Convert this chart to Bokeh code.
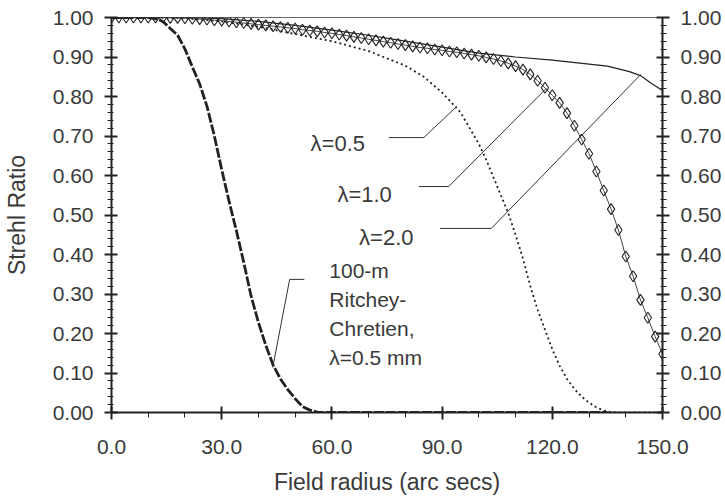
from bokeh.plotting import figure
from bokeh.models import Range1d, LinearAxis, FixedTicker, PrintfTickFormatter, Label
from bokeh.embed import file_html
from bokeh.resources import INLINE

# ---------------- data ----------------
x_ticks = [0, 30, 60, 90, 120, 150]
x_minor = [10, 20, 40, 50, 70, 80, 100, 110, 130, 140]
y_ticks = [0.0, 0.1, 0.2, 0.3, 0.4, 0.5, 0.6, 0.7, 0.8, 0.9, 1.0]
y_minor = [round(i * 0.02, 2) for i in range(51)]

# 100-m Ritchey-Chretien, lambda = 0.5 mm (thick dashed)
rc_x = [0, 5, 10, 12, 14, 16, 18, 20, 22, 24, 26, 28, 30, 32, 34, 36, 38, 40,
        42, 44, 46, 48, 50, 52, 54, 56, 60, 90, 120, 135]
rc_y = [1.0, 1.0, 1.0, 0.997, 0.99, 0.972, 0.955, 0.92, 0.875, 0.832, 0.775,
        0.7, 0.615, 0.535, 0.46, 0.38, 0.295, 0.228, 0.17, 0.12, 0.085, 0.058,
        0.035, 0.015, 0.006, 0.001, 0.0, 0.0, 0.0, 0.0]

# lambda = 0.5 (dotted)
l05_x = [0, 10, 20, 30, 40, 50, 60, 70, 80, 85, 90, 95, 100, 102, 104, 106,
         108, 110, 112, 114, 116, 118, 120, 122, 124, 126, 128, 130, 132, 134,
         136, 140, 150]
l05_y = [1.0, 1.0, 0.998, 0.99, 0.977, 0.958, 0.94, 0.915, 0.878, 0.85, 0.81,
         0.76, 0.68, 0.64, 0.595, 0.55, 0.505, 0.45, 0.39, 0.32, 0.26, 0.21,
         0.16, 0.118, 0.085, 0.06, 0.04, 0.025, 0.013, 0.005, 0.001, 0.0, 0.0]

# lambda = 1.0 (open diamonds)
l10_x = list(range(0, 152, 2))
l10_y = [1.0, 1.0, 1.0, 1.0, 1.0, 1.0, 1.0, 1.0, 0.999, 0.999, 0.998, 0.997,
         0.996, 0.995, 0.993, 0.992, 0.99, 0.988, 0.986, 0.984, 0.982, 0.98,
         0.978, 0.976, 0.974, 0.972, 0.969, 0.967, 0.965, 0.962, 0.96, 0.957,
         0.954, 0.951, 0.948, 0.945, 0.942, 0.939, 0.936, 0.933, 0.93, 0.927,
         0.924, 0.922, 0.919, 0.917, 0.914, 0.912, 0.909, 0.906, 0.903, 0.899,
         0.895, 0.89, 0.884, 0.877, 0.868, 0.856, 0.84, 0.822, 0.803, 0.784,
         0.758, 0.726, 0.691, 0.655, 0.61, 0.562, 0.515, 0.462, 0.395, 0.345,
         0.285, 0.24, 0.192, 0.148]

# lambda = 2.0 (thin solid)
l20_x = [0, 20, 30, 40, 50, 60, 70, 80, 90, 100, 110, 120, 130, 135, 138, 141,
         144, 147, 150]
l20_y = [1.0, 1.0, 0.997, 0.99, 0.98, 0.968, 0.955, 0.94, 0.925, 0.91, 0.9,
         0.892, 0.882, 0.877, 0.87, 0.863, 0.853, 0.833, 0.815]

# ---------------- figure ----------------
FONT = "Liberation Sans"
TXT = "#3a3a3a"
INK = "#222222"

p = figure(width=725, height=499, x_range=Range1d(0, 150), y_range=Range1d(0, 1),
           output_backend="svg", toolbar_location=None,
           min_border_left=108, min_border_right=63, min_border_top=17,
           min_border_bottom=87)
p.xgrid.visible = False
p.ygrid.visible = False
p.outline_line_color = "#666666"
p.outline_line_width = 1
p.background_fill_color = "white"
p.border_fill_color = "white"

xa = p.xaxis[0]
xa.ticker = FixedTicker(ticks=x_ticks, minor_ticks=x_minor)
xa.formatter = PrintfTickFormatter(format="%.1f")
xa.axis_label = "Field radius (arc secs)"

ya = p.yaxis[0]
ya.ticker = FixedTicker(ticks=y_ticks, minor_ticks=y_minor)
ya.formatter = PrintfTickFormatter(format="%.2f")
ya.axis_label = "Strehl Ratio"

p.extra_y_ranges = {"r": Range1d(0, 1)}
ra = LinearAxis(y_range_name="r",
                ticker=FixedTicker(ticks=y_ticks, minor_ticks=y_minor),
                formatter=PrintfTickFormatter(format="%.2f"))
p.add_layout(ra, "right")

for ax in (xa, ya, ra):
    ax.axis_line_color = INK
    ax.axis_line_width = 2
    ax.major_tick_line_color = INK
    ax.major_tick_line_width = 2
    ax.minor_tick_line_color = INK
    ax.minor_tick_line_width = 1
    ax.major_tick_in = 6
    ax.major_tick_out = 7
    ax.minor_tick_in = 2
    ax.minor_tick_out = 4
    ax.major_label_text_font = FONT
    ax.major_label_text_font_size = "21px"
    ax.major_label_text_color = TXT
    ax.axis_label_text_font = FONT
    ax.axis_label_text_font_size = "23px"
    ax.axis_label_text_font_style = "normal"
    ax.axis_label_text_color = TXT
    ax.major_label_standoff = 11

xa.minor_tick_in = 0
xa.minor_tick_out = 5
xa.major_label_standoff = 20
xa.axis_label_standoff = 12
ya.axis_label_standoff = 20

# ---------------- curves ----------------
p.line(rc_x, rc_y, line_color=INK, line_width=2.8, line_dash="10 2")
p.line(l05_x, l05_y, line_color=INK, line_width=1.8, line_dash="2 3")
p.line(l10_x, l10_y, line_color="#444444", line_width=1)
p.scatter(l10_x, l10_y, marker="diamond", size=11, line_color=INK,
          line_width=1.1, fill_alpha=0)
p.line(l20_x, l20_y, line_color=INK, line_width=1.2)

# ---------------- annotations ----------------
leaders = [
    ([75.5, 85.0, 94.0], [0.696, 0.696, 0.775]),
    ([83.7, 91.8, 118.3], [0.572, 0.572, 0.82]),
    ([89.4, 103.4, 144.1], [0.466, 0.466, 0.856]),
    ([52.5, 48.5, 43.9], [0.337, 0.337, 0.114]),
]
for lx, ly in leaders:
    p.line(lx, ly, line_color="#333333", line_width=1)

labels = [
    ("λ=0.5", 54.2, 0.681, "22px"),
    ("λ=1.0", 61.5, 0.551, "22px"),
    ("λ=2.0", 67.4, 0.444, "22px"),
    ("100-m", 59.3, 0.359, "21px"),
    ("Ritchey-", 59.3, 0.286, "21px"),
    ("Chretien,", 59.3, 0.213, "21px"),
    ("λ=0.5 mm", 59.3, 0.139, "21px"),
]
for t, lx, ly, fs in labels:
    p.add_layout(Label(x=lx, y=ly, text=t, text_font=FONT, text_font_size=fs,
                       text_color=TXT, text_baseline="middle", text_align="left"))

open("out.html", "w").write(file_html(p, INLINE))
